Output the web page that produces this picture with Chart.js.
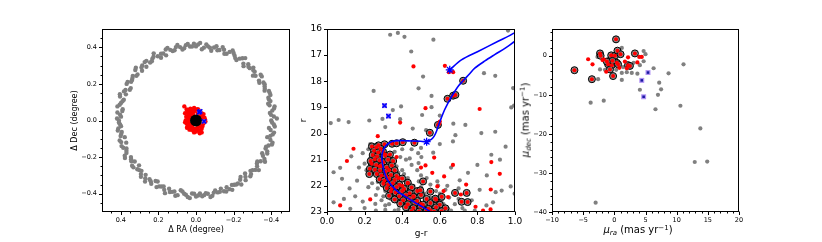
<!DOCTYPE html>
<html><head><meta charset="utf-8">
<script src="https://cdn.jsdelivr.net/npm/chart.js@4.4.0/dist/chart.umd.min.js"></script>
<style>
html,body{margin:0;padding:0;background:#fff;width:822px;height:242px;overflow:hidden;}
canvas{position:absolute;top:0;}
.lab{position:absolute;white-space:nowrap;font-family:'DejaVu Sans';color:#000;line-height:1;font-size:10px;}
.lab sub{font-size:70%;vertical-align:-0.3em;}
.lab sup{font-size:70%;vertical-align:0.5em;}
</style></head><body>
<canvas id="c1" width="300" height="242" style="left:0px"></canvas>
<canvas id="c2" width="240" height="242" style="left:290px"></canvas>
<canvas id="c3" width="300" height="242" style="left:520px"></canvas>
<div class="lab" id="pmx" style="left:638px;top:231px;transform:translate(-50%,-50%)"><i>μ</i><sub><i>ra</i></sub> (mas yr<sup>−1</sup>)</div>
<div class="lab" id="pmy" style="left:526px;top:120px;transform:translate(-50%,-50%) rotate(-90deg)"><i>μ</i><sub><i>dec</i></sub> (mas yr<sup>−1</sup>)</div>
<script>
// ---------- Panel 1: sky positions (ΔRA, ΔDec) ----------
const raTicks = [0.4, 0.2, 0.0, -0.2, -0.4];
const raLabels = ['0.4', '0.2', '0.0', '\u22120.2', '\u22120.4'];
const raMinor = [0.45, 0.35, 0.3, 0.25, 0.15, 0.1, 0.05, -0.05, -0.1, -0.15, -0.25, -0.3, -0.35, -0.45];
const decTicks = [0.4, 0.2, 0.0, -0.2, -0.4];
const decLabels = ['0.4', '0.2', '0.0', '\u22120.2', '\u22120.4'];
const decMinor = [0.45, 0.35, 0.3, 0.25, 0.15, 0.1, 0.05, -0.05, -0.1, -0.15, -0.25, -0.3, -0.35, -0.45];

const skyRing = [
[0.410,0.000],[0.399,0.021],[0.418,0.044],[0.390,0.062],[0.406,0.086],[0.391,0.105],[0.404,0.131],[0.373,0.143],[0.375,0.167],[0.347,0.177],
[0.364,0.210],[0.340,0.221],[0.336,0.244],[0.311,0.252],[0.320,0.288],[0.290,0.290],[0.264,0.294],[0.264,0.326],[0.235,0.324],[0.226,0.348],
[0.203,0.351],[0.186,0.365],[0.159,0.356],[0.152,0.397],[0.124,0.380],[0.107,0.401],[0.085,0.401],[0.063,0.395],[0.044,0.418],[0.021,0.404],
[0.000,0.405],[-0.022,0.424],[-0.042,0.398],[-0.064,0.405],[-0.081,0.381],[-0.109,0.406],[-0.125,0.385],[-0.149,0.387],[-0.163,0.365],[-0.195,0.383],
[-0.205,0.355],[-0.215,0.331],[-0.247,0.340],[-0.252,0.311],[-0.278,0.308],[-0.286,0.286],[-0.305,0.274],[-0.303,0.245],[-0.344,0.250],[-0.335,0.218],
[-0.359,0.208],[-0.365,0.186],[-0.365,0.163],[-0.392,0.151],[-0.385,0.125],[-0.396,0.106],[-0.391,0.083],[-0.415,0.066],[-0.393,0.041],[-0.414,0.022],
[-0.400,0.000],[-0.414,-0.022],[-0.388,-0.041],[-0.415,-0.066],[-0.396,-0.084],[-0.396,-0.106],[-0.404,-0.131],[-0.373,-0.143],[-0.379,-0.169],[-0.352,-0.179],
[-0.364,-0.210],[-0.344,-0.223],[-0.324,-0.235],[-0.334,-0.271],[-0.301,-0.271],[-0.293,-0.293],[-0.261,-0.290],[-0.264,-0.326],[-0.235,-0.324],[-0.223,-0.344],
[-0.203,-0.351],[-0.193,-0.379],[-0.163,-0.365],[-0.149,-0.387],[-0.127,-0.390],[-0.102,-0.382],[-0.087,-0.411],[-0.063,-0.400],[-0.043,-0.408],[-0.021,-0.399],
[0.000,-0.415],[0.021,-0.399],[0.044,-0.418],[0.063,-0.400],[0.081,-0.381],[0.110,-0.411],[0.127,-0.390],[0.143,-0.373],[0.169,-0.379],[0.184,-0.361],
[0.210,-0.364],[0.215,-0.331],[0.241,-0.332],[0.271,-0.334],[0.268,-0.297],[0.293,-0.293],[0.301,-0.271],[0.303,-0.245],[0.340,-0.247],[0.344,-0.223],
[0.346,-0.200],[0.379,-0.193],[0.370,-0.165],[0.387,-0.149],[0.371,-0.121],[0.406,-0.109],[0.401,-0.085],[0.395,-0.063],[0.413,-0.043],[0.404,-0.021],
[0.420,0.011],[0.404,0.032],[0.392,0.052],[0.418,0.077],[0.399,0.096],[0.384,0.114],[0.405,0.144],[0.383,0.159],[0.352,0.168],[0.369,0.200],
[0.345,0.212],[0.338,0.232],[0.317,0.244],[0.323,0.276],[0.287,0.272],[0.286,0.301],[0.273,0.319],[0.244,0.317],[0.232,0.338],[0.225,0.367],
[0.186,0.343],[0.174,0.366],[0.161,0.388],[0.137,0.386],[0.114,0.384],[0.099,0.413],[0.072,0.388],[0.054,0.411],[0.032,0.404],[0.011,0.420],
[-0.011,0.415],[-0.031,0.389],[-0.055,0.416],[-0.074,0.398],[-0.096,0.399],[-0.114,0.384],[-0.142,0.401],[-0.151,0.365],[-0.179,0.375],[-0.200,0.369],
[-0.209,0.341],[-0.232,0.338],[-0.262,0.341],[-0.253,0.297],[-0.279,0.294],[-0.305,0.289],[-0.312,0.266],[-0.317,0.244],[-0.350,0.241],[-0.337,0.206],
[-0.365,0.198],[-0.366,0.174],[-0.388,0.161],[-0.396,0.140],[-0.388,0.115],[-0.384,0.092],[-0.418,0.077],[-0.406,0.054],[-0.399,0.031],[-0.430,0.011],
[-0.405,-0.011],[-0.419,-0.033],[-0.397,-0.052],[-0.408,-0.076],[-0.379,-0.091],[-0.407,-0.121],[-0.386,-0.137],[-0.370,-0.153],[-0.379,-0.181],[-0.356,-0.193],
[-0.367,-0.225],[-0.326,-0.224],[-0.325,-0.250],[-0.316,-0.270],[-0.290,-0.275],[-0.289,-0.305],[-0.263,-0.308],[-0.237,-0.309],[-0.241,-0.350],[-0.214,-0.350],
[-0.191,-0.352],[-0.179,-0.375],[-0.161,-0.388],[-0.132,-0.372],[-0.116,-0.393],[-0.095,-0.394],[-0.077,-0.418],[-0.052,-0.397],[-0.033,-0.414],[-0.011,-0.410],
[0.010,-0.400],[0.033,-0.424],[0.054,-0.406],[0.072,-0.388],[0.098,-0.408],[0.115,-0.388],[0.139,-0.391],[0.165,-0.397],[0.172,-0.361],[0.196,-0.360],
[0.204,-0.333],[0.238,-0.346],[0.247,-0.321],[0.270,-0.316],[0.293,-0.308],[0.290,-0.275],[0.312,-0.266],[0.333,-0.256],[0.326,-0.224],[0.345,-0.212],
[0.378,-0.205],[0.370,-0.177],[0.370,-0.153],[0.396,-0.140],[0.398,-0.118],[0.379,-0.091],[0.398,-0.074],[0.416,-0.055],[0.399,-0.031],[0.410,-0.011]
];
const skyRed = [
[0.062,0.077],[0.05,0.06],[0.045,0.045],[0.052,0.02],[0.055,0.0],[0.05,-0.015],[0.045,-0.03],[0.04,0.035],[0.035,0.055],[0.03,0.065],
[0.02,0.06],[0.01,0.068],[0.0,0.06],[-0.01,0.062],[-0.02,0.05],[0.038,0.01],[0.04,-0.005],[0.035,-0.02],[0.03,-0.04],[0.025,-0.05],
[0.02,-0.035],[0.015,-0.055],[0.005,-0.045],[-0.005,-0.05],[-0.015,-0.055],[-0.025,-0.06],[-0.03,-0.045],[-0.035,-0.03],[-0.04,-0.015],[-0.048,0.005],
[-0.045,0.015],[-0.035,0.025],[-0.03,0.04],[-0.025,0.03],[0.028,0.045],[0.025,0.025],[0.02,0.04],[0.03,0.02],[0.045,0.02],[0.035,-0.05],
[0.01,-0.065],[-0.02,-0.07],[-0.03,-0.065],[-0.01,-0.04],[0.025,-0.02],[0.02,0.01],[0.015,0.03],[-0.01,0.04],[-0.02,-0.03],[-0.028,0.01],
[0.042,0.058],[0.058,0.04],[0.048,-0.04],[0.01,0.05],[-0.04,0.035],[0.0,-0.06],[-0.05,-0.005],[0.058,-0.01],[0.03,0.055],[-0.015,0.055]
];
const skyMembers = [[0.0,0.0]];
const skyBlue = [[-0.017,0.045],[-0.022,0.05],[-0.043,-0.005]];

// ---------- Panel 2: colour-magnitude diagram (g-r, r) ----------
const grTicks = [0.0, 0.2, 0.4, 0.6, 0.8, 1.0];
const grLabels = ['0.0', '0.2', '0.4', '0.6', '0.8', '1.0'];
const rTicks = [16, 17, 18, 19, 20, 21, 22, 23];
const rLabels = ['16', '17', '18', '19', '20', '21', '22', '23'];

const cmdGrey = [
[0.336,16.22],[0.377,16.15],[0.412,16.3],[0.566,16.41],[0.963,16.06],[0.448,16.86],[0.511,17.82],[0.835,17.69],[0.895,17.79],[0.248,18.37],
[0.487,18.27],[0.99,18.26],[0.556,18.56],[0.556,18.99],[0.995,18.93],[0.35,19.1],[0.394,18.96],[0.295,19.44],[0.225,19.5],[0.062,19.48],
[0.02,19.6],[0.115,19.56],[0.506,19.29],[0.6,19.31],[0.389,19.45],[0.456,19.81],[0.527,19.87],[0.672,19.62],[0.736,19.67],[0.683,20.06],
[0.821,19.98],[0.895,19.93],[0.31,19.75],[0.485,20.75],[0.565,20.73],[0.874,20.81],[0.502,20.9],[0.488,21.83],[0.587,21.83],[0.706,21.79],
[0.812,22.15],[0.897,22.24],[0.977,22.02],[0.998,22.3],[0.848,22.75],[0.883,22.63],[0.786,22.95],[0.733,22.95],[0.644,22.88],[0.591,21.99],
[0.035,21.48],[0.07,21.31],[0.08,21.73],[0.129,20.87],[0.035,22.63],[0.124,22.88],[0.257,22.69],[0.31,22.92],[0.929,22.18],[0.487,21.13],
[0.22,20.6],[0.23,20.95],[0.21,21.4],[0.24,21.9],[0.27,22.1],[0.30,22.4],[0.33,22.7],[0.38,22.9],[0.42,21.0],[0.40,21.4],
[0.43,21.7],[0.46,22.0],[0.52,22.3],[0.57,22.6],[0.62,22.7],[0.66,22.95],[0.36,20.7],[0.39,20.9],[0.33,21.05],[0.37,21.25],
[0.41,21.55],[0.35,21.85],[0.29,21.6],[0.31,22.2],[0.34,22.5],[0.40,22.7],[0.47,22.6],[0.52,22.9],[0.58,22.9],[0.5,22.05],
[0.44,22.35],[0.55,22.45],[0.48,21.4],[0.45,20.6],[0.3,20.65],[0.2,21.15],[0.26,22.35],[0.36,22.95],[0.6,22.3],[0.68,22.7],
[0.7,22.5],[0.63,22.15],[0.53,21.7],[0.45,21.2],[0.27,21.85],[0.22,22.05],[0.19,22.6],[0.15,22.4],[0.44,22.9],[0.29,22.55],
[0.25,21.05],[0.27,21.35],[0.32,21.55],[0.38,21.5],[0.42,21.85],[0.39,22.15],[0.35,22.35],[0.42,22.55],[0.48,22.75],[0.56,22.75],
[0.61,22.55],[0.65,22.45],[0.72,22.85],[0.77,22.55],[0.5,21.6],[0.55,21.95],[0.58,22.2],[0.64,22.0],[0.34,20.95],[0.44,20.95],
[0.4,20.6],[0.5,20.55],[0.6,20.4],[0.67,20.3],[0.23,20.4],[0.19,20.75],[0.17,21.3],[0.16,21.8],[0.12,22.1],[0.09,22.5],
[0.2,22.85],[0.26,22.95],[0.31,22.75],[0.37,22.6],[0.53,22.55],[0.48,22.95],[0.62,22.95],[0.7,22.1],[0.75,21.5],[0.8,21.2],
[0.66,21.3],[0.95,20.5],[0.92,21.0],[0.85,21.6],[0.98,19.0]
];
const cmdRed = [
[0.46,17.43],[0.389,19.58],[0.627,17.41],[0.648,17.65],[0.671,17.65],[0.524,19.03],[0.812,19.06],[0.6,19.54],[0.57,20.92],[0.874,21.09],
[0.524,21.22],[0.919,21.54],[0.623,21.64],[0.587,22.02],[0.871,22.14],[0.83,22.95],[0.712,22.33],[0.644,22.43],[0.141,20.58],[0.106,21.05],
[0.07,22.75],[0.23,22.52],[0.27,20.1],[0.597,19.62],[0.37,20.9],[0.33,21.4],[0.4,22.0],[0.46,22.4],[0.5,22.7],[0.55,22.95],
[0.28,21.25],[0.43,21.9],[0.38,21.7],[0.31,20.8],[0.87,22.9],[0.56,21.5],[0.67,21.2],[0.74,21.95],[0.79,22.8],[0.5,21.3],[0.62,22.2]
];
const cmdMembers = [
[0.724,17.98],[0.641,18.67],[0.671,18.55],[0.683,18.52],[0.547,19.97],[0.59,19.67],
[0.239,20.49],[0.274,20.45],[0.306,20.41],[0.346,20.39],[0.37,20.37],[0.403,20.33],[0.465,20.35],
[0.262,20.52],[0.285,20.58],[0.25,20.66],[0.272,20.72],[0.298,20.69],[0.243,20.82],[0.266,20.88],[0.31,20.85],[0.335,20.8],
[0.254,20.98],[0.28,21.02],[0.3,21.1],[0.325,21.0],[0.352,21.05],[0.238,21.15],[0.262,21.2],[0.29,21.24],[0.318,21.3],[0.345,21.22],
[0.228,21.35],[0.255,21.38],[0.282,21.42],[0.31,21.47],[0.36,21.4],[0.265,21.55],[0.29,21.6],[0.315,21.63],[0.34,21.58],[0.37,21.62],
[0.28,21.75],[0.305,21.8],[0.33,21.74],[0.36,21.78],[0.4,21.72],[0.3,21.92],[0.325,21.95],[0.35,21.9],[0.385,21.96],[0.43,21.88],
[0.318,22.08],[0.345,22.1],[0.37,22.05],[0.41,22.12],[0.45,22.06],[0.34,22.22],[0.365,22.25],[0.4,22.2],[0.44,22.28],[0.48,22.2],
[0.55,22.22],[0.33,22.38],[0.385,22.4],[0.42,22.36],[0.46,22.42],[0.5,22.35],[0.36,22.52],[0.405,22.55],[0.44,22.5],[0.48,22.58],
[0.53,22.5],[0.58,22.52],[0.39,22.68],[0.43,22.7],[0.47,22.65],[0.51,22.72],[0.55,22.66],[0.6,22.72],[0.42,22.82],[0.46,22.85],
[0.5,22.8],[0.54,22.88],[0.58,22.82],[0.63,22.86],[0.45,22.97],[0.49,22.98],[0.53,22.96],[0.57,22.99],[0.61,22.97],
[0.681,22.27],[0.743,22.27],[0.716,22.61],[0.748,22.62],[0.61,22.42],[0.576,22.49],[0.496,22.17],[0.511,21.83],[0.225,21.55],[0.232,21.05]
];
const cmdBlue = [[0.306,18.93],[0.327,19.33]];
const isoMarks = [[0.53,20.31],[0.653,17.56]];
const isoGR = [0.565,0.53,0.495,0.45,0.415,0.38,0.345,0.319,0.302,0.292,0.293,0.30,0.315,0.345,0.38,0.43,0.48,0.53,0.555,0.57,0.583,0.595,0.608,0.625,0.642,0.66,0.68,0.70,0.724,0.755,0.786,0.84,0.892,0.95,1.0,1.06,1.06,1.0,0.91,0.803,0.715,0.653];
const isoR  = [23.05,22.9,22.75,22.56,22.4,22.24,22.0,21.73,21.4,21.0,20.8,20.62,20.45,20.3,20.27,20.28,20.29,20.3,20.22,20.1,19.9,19.65,19.4,19.1,18.85,18.62,18.38,18.17,17.98,17.74,17.5,17.22,16.98,16.72,16.47,16.2,15.82,16.14,16.47,16.86,17.18,17.56];

// ---------- Panel 3: proper motions ----------
const pmraTicks = [-10, -5, 0, 5, 10, 15, 20];
const pmraLabels = ['\u221210', '\u22125', '0', '5', '10', '15', '20'];
const pmraMinor = [-9,-8,-7,-6,-4,-3,-2,-1,1,2,3,4,6,7,8,9,11,12,13,14,16,17,18,19];
const pmdecTicks = [0, -10, -20, -30, -40];
const pmdecLabels = ['0', '\u221210', '\u221220', '\u221230', '\u221240'];
const pmdecMinor = [6,4,2,-2,-4,-6,-8,-12,-14,-16,-18,-22,-24,-26,-28,-32,-34,-36,-38];

const pmGrey = [
[1.2,2.0],[4.7,1.2],[5.0,0.4],[4.7,-1.4],[6.3,-3.2],[-2.3,-3.5],[-2.6,-6.0],[1.2,-4.4],[1.2,-6.2],[2.0,-4.2],
[2.8,-4.4],[3.7,-4.6],[3.1,-1.8],[1.4,-2.9],[7.2,-6.9],[7.5,-8.6],[7.0,-10.0],[4.1,-8.7],[6.6,-13.7],[8.7,-4.5],
[11.1,-2.2],[10.6,-12.8],[13.8,-18.6],[12.9,-27.2],[14.9,-27.1],[-3.8,-12.0],[-1.7,-11.5],[-3.0,-37.6],[0.3,-3.6],[4.1,-2.4],
[-0.9,-0.7],[-1.5,-3.6],[-2.7,-0.3]
];
const pmRed = [
[-4.2,-0.9],[-3.5,-2.2],[-1.9,-1.1],[-1.3,-4.1],[2.2,-0.4],[3.7,-1.7],[4.0,-0.3],[4.4,-0.3],[2.0,-3.2],[0.8,-3.1],
[-1.7,-0.9],[1.7,-1.5]
];
const pmMembers = [
[0.27,4.2],[-6.4,-3.7],[-3.6,-6.0],[-2.3,0.6],[-2.2,0.0],[-0.5,0.1],[0.1,0.0],[0.5,1.3],[1.0,0.4],[3.3,0.6],
[-1.0,-2.2],[-0.4,-2.4],[0.4,-1.8],[0.6,-2.2],[-0.7,-3.5],[-0.2,-5.2],[2.2,-2.4],[2.5,-2.6],[-0.3,-1.3],[-1.2,-1.5]
];
const pmBlue = [[4.4,-6.3],[5.4,-4.3],[4.7,-10.5]];

// ---------- helpers ----------
Chart.defaults.font.family = "'DejaVu Sans'";
Chart.defaults.color = '#000';

const axesDeco = {
  id: 'axesDeco',
  afterDraw(chart, args, o) {
    const {ctx, chartArea: a} = chart;
    const xs = chart.scales.x, ys = chart.scales.y;
    const L = Math.round(a.left) + 0.5, R = Math.round(a.right) - 0.5;
    const T = Math.round(a.top) + 0.5, B = Math.round(a.bottom) - 0.5;
    ctx.save();
    ctx.strokeStyle = '#000'; ctx.lineWidth = 1;
    ctx.strokeRect(L, T, R - L, B - T);
    const tx = (vals, len) => vals.forEach(v => {
      const p = Math.round(xs.getPixelForValue(v)) + 0.5;
      ctx.beginPath(); ctx.moveTo(p, B); ctx.lineTo(p, B + len); ctx.stroke();
    });
    const ty = (vals, len) => vals.forEach(v => {
      const p = Math.round(ys.getPixelForValue(v)) + 0.5;
      ctx.beginPath(); ctx.moveTo(L, p); ctx.lineTo(L - len, p); ctx.stroke();
    });
    tx(o.xMajor, 3.5); tx(o.xMinor || [], 2);
    ty(o.yMajor, 3.5); ty(o.yMinor || [], 2);
    ctx.restore();
  }
};

function pts(a) { return a.map(p => ({x: p[0], y: p[1]})); }
function dot(data, color, r, extra) {
  return Object.assign({data: pts(data), clip: 0, pointRadius: r, pointHoverRadius: r,
    pointBackgroundColor: color, pointBorderColor: color, pointBorderWidth: 0}, extra || {});
}
function member(data, r) {
  return {data: pts(data), clip: 0, pointRadius: r, pointHoverRadius: r,
    pointBackgroundColor: 'rgba(120,120,120,0.85)', pointBorderColor: '#000', pointBorderWidth: 1};
}
function scale(o) {
  return {
    type: 'linear', min: o.min, max: o.max, reverse: !!o.reverse,
    afterBuildTicks: s => { s.ticks = o.ticks.map(v => ({value: v})); },
    afterFit: s => { if (o.w != null) s.width = o.w; if (o.h != null) s.height = o.h; },
    ticks: {autoSkip: false, maxRotation: 0, minRotation: 0, padding: o.tp, color: '#000',
      font: {size: o.fs}, callback: (v, i) => o.labels[i]},
    grid: {display: false, drawTicks: false},
    border: {display: false},
    title: o.title ? {display: true, text: o.title, color: '#000', font: {size: o.tfs}, padding: o.tpad} : {display: false}
  };
}
function makeChart(id, datasets, xs, ys, pad, deco) {
  return new Chart(document.getElementById(id), {
    type: 'scatter',
    data: {datasets},
    options: {
      responsive: false, animation: false, devicePixelRatio: 1, events: [],
      layout: {padding: pad},
      plugins: {legend: {display: false}, tooltip: {enabled: false}, axesDeco: deco},
      scales: {x: scale(xs), y: scale(ys)}
    },
    plugins: [axesDeco]
  });
}

// Panel 1
makeChart('c1', [
  dot(skyBlue, '#0000ff', 3, {pointStyle: 'crossRot', pointBorderWidth: 1.5}),
  dot(skyBlue, 'rgba(130,90,230,0.8)', 3, {pointStyle: 'rect'}),
  dot(skyMembers, '#000', 6),
  dot(skyRed, '#ff0000', 2.2),
  dot(skyRing, '#808080', 2.2)
],
{min: -0.5, max: 0.5, reverse: true, ticks: raTicks, labels: raLabels, fs: 6.5, tp: 4, h: 30,
 title: '\u0394 RA (degree)', tfs: 8, tpad: {top: 0, bottom: 7.5}},
{min: -0.5, max: 0.5, ticks: decTicks, labels: decLabels, fs: 6.5, tp: 5, w: 102,
 title: '\u0394 Dec (degree)', tfs: 8, tpad: {top: 70, bottom: 0}},
{left: 0, right: 10, top: 29, bottom: 0},
{xMajor: raTicks, xMinor: raMinor, yMajor: decTicks, yMinor: decMinor});

// Panel 2
const isoPts = isoGR.map((g, i) => [g, isoR[i]]);
makeChart('c2', [
  dot(isoMarks, '#0000ff', 4, {pointStyle: 'star', pointBorderWidth: 1.3}),
  dot(cmdBlue, '#0000ff', 3, {pointStyle: 'crossRot', pointBorderWidth: 1.5}),
  dot(cmdBlue, 'rgba(130,90,230,0.8)', 3.5, {pointStyle: 'rect'}),
  {data: pts(isoPts), showLine: true, clip: 0, borderColor: '#0000ff', borderWidth: 1.6, pointRadius: 0, fill: false, tension: 0.3},
  dot(cmdMembers, '#ff0000', 2),
  dot(cmdRed, '#ff0000', 2.1),
  member(cmdMembers, 3.5),
  dot(cmdGrey, '#808080', 2.1)
],
{min: 0, max: 1, ticks: grTicks, labels: grLabels, fs: 9, tp: 4, h: 30,
 title: 'g-r', tfs: 9, tpad: {top: 0, bottom: 3}},
{min: 16, max: 23, reverse: true, ticks: rTicks, labels: rLabels, fs: 9, tp: 5, w: 37,
 title: 'r', tfs: 9, tpad: {top: 8, bottom: 0}},
{left: 0, right: 15, top: 29, bottom: 0},
{xMajor: grTicks, yMajor: rTicks});

// Panel 3
makeChart('c3', [
  dot(pmBlue, '#1a1aa0', 1.8, {pointStyle: 'rect'}),
  dot(pmBlue, 'rgba(150,110,240,0.75)', 3.5, {pointStyle: 'rect'}),
  dot(pmMembers, '#ff0000', 2),
  dot(pmRed, '#ff0000', 2.1),
  member(pmMembers, 3.5),
  dot(pmGrey, '#808080', 2.1)
],
{min: -10, max: 20, ticks: pmraTicks, labels: pmraLabels, fs: 6.5, tp: 4, h: 30},
{min: -40, max: 6.85, ticks: pmdecTicks, labels: pmdecLabels, fs: 6.5, tp: 5, w: 32},
{left: 0, right: 81, top: 29, bottom: 0},
{xMajor: pmraTicks, xMinor: pmraMinor, yMajor: pmdecTicks, yMinor: pmdecMinor});
</script>
</body></html>
